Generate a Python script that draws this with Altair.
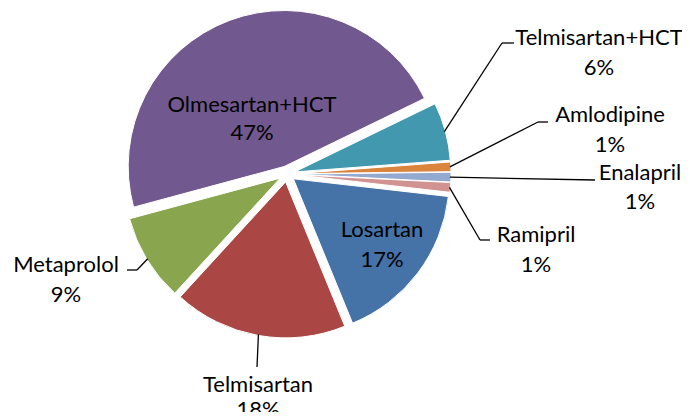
import math
import altair as alt
import pandas as pd

# ---- data ----
names = ["Losartan", "Telmisartan", "Metaprolol", "Olmesartan+HCT",
         "Telmisartan+HCT", "Amlodipine", "Enalapril", "Ramipril"]
pcts = [17, 18, 9, 47, 6, 1, 1, 1]
colors = ["#4572A7", "#AA4643", "#89A54E", "#71588F",
          "#4198AF", "#DB843D", "#93A9CF", "#D19392"]

# ---- layout (chart pixels) ----
CX, CY, R, EXPLODE = 279, 166, 156, 8
START_DEG = 96.5
inside = [True, False, False, True, False, False, False, False]
label_x = [374, 250, 58, 244, 591, 602, 632, 528]
name_y = [229, 384, 264, 104, 37, 114, 172, 234]
pct_y = [259, 409, 294, 132, 67, 144, 201, 264]
elbow_x = [0, 249, 129, 0, 494, 530, 587, 472]
elbow_y = [0, 359, 262, 0, 35, 114, 172, 232]
tail_x = [0, 249, 119, 0, 506, 540, 587, 482]

df = pd.DataFrame({
    "name": names, "pct": pcts, "order": list(range(len(names))),
    "inside": inside, "lx": label_x, "ny": name_y, "py": pct_y,
    "ex": elbow_x, "ey": elbow_y, "tx": tail_x,
})

start = math.radians(START_DEG)
base = alt.Chart(df).transform_window(
    cum="sum(pct)", sort=[alt.SortField("order")]
).transform_calculate(
    t0=f"{start} + 2*PI*(datum.cum - datum.pct)/100",
    t1=f"{start} + 2*PI*datum.cum/100",
).transform_calculate(
    mid="(datum.t0 + datum.t1)/2"
).transform_calculate(
    cx=f"{CX} + {EXPLODE}*sin(datum.mid)",
    cy=f"{CY} - {EXPLODE}*cos(datum.mid)",
).transform_calculate(
    sx=f"datum.cx + {R - 1}*sin(datum.mid)",
    sy=f"datum.cy - {R - 1}*cos(datum.mid)",
    ptxt="datum.pct + '%'",
)

color_scale = alt.Scale(domain=names, range=colors)

pie = base.mark_arc(stroke="white", strokeWidth=1, radius=R).encode(
    x=alt.X("cx:Q", scale=None),
    y=alt.Y("cy:Q", scale=None),
    theta=alt.Theta("t0:Q", scale=None, stack=False),
    theta2="t1:Q",
    color=alt.Color("name:N", scale=color_scale, legend=None),
)

outside = base.transform_filter("!datum.inside")

lead1 = outside.mark_rule(color="black", strokeWidth=1.3).encode(
    x=alt.X("sx:Q", scale=None), y=alt.Y("sy:Q", scale=None),
    x2="ex:Q", y2="ey:Q",
)
lead2 = outside.transform_filter("datum.tx != datum.ex").mark_rule(
    color="black", strokeWidth=1.3
).encode(
    x=alt.X("ex:Q", scale=None), y=alt.Y("ey:Q", scale=None),
    x2="tx:Q", y2="ey:Q",
)

txt_style = dict(font="Lato", fontSize=22, color="black",
                 align="center", baseline="alphabetic")
name_txt = base.mark_text(**txt_style).encode(
    x=alt.X("lx:Q", scale=None), y=alt.Y("ny:Q", scale=None), text="name:N"
)
pct_txt = base.mark_text(**txt_style).encode(
    x=alt.X("lx:Q", scale=None), y=alt.Y("py:Q", scale=None), text="ptxt:N"
)

chart = alt.layer(pie, lead1, lead2, name_txt, pct_txt).properties(
    width=674, height=404, padding=0,
    autosize=alt.AutoSizeParams(type="none"),
    background="white",
).configure_view(stroke=None)

chart.save("out.html", embed_options={"renderer": "svg", "actions": False})
